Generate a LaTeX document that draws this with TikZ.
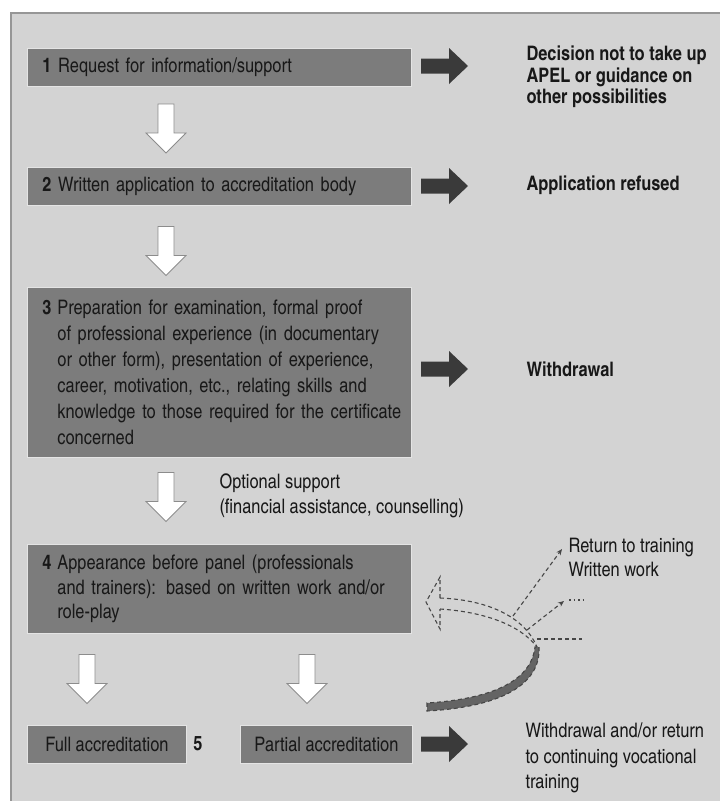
\documentclass[tikz,border=0pt]{standalone}
\usepackage{fontspec}
\setmainfont{TeX Gyre Heros Cn}
\usetikzlibrary{arrows.meta}
\definecolor{panelbg}{RGB}{211,211,211}
\definecolor{panelline}{RGB}{150,150,150}
\definecolor{boxfill}{RGB}{124,124,124}
\definecolor{boxedge}{RGB}{228,228,228}
\definecolor{darkarr}{RGB}{58,58,58}
\definecolor{txt}{RGB}{24,24,24}
\definecolor{dashcol}{RGB}{70,70,70}
\definecolor{bandfill}{RGB}{100,100,100}
\definecolor{arredge}{RGB}{140,140,140}
\newcommand\contline[1]{\hspace*{15pt}\mbox{#1}}
\tikzset{
  rarr/.pic={
    \path[fill=darkarr] (-23.5,-7.5) -- (4.5,-7.5) -- (4.5,-18) -- (23.5,0)
      -- (4.5,18) -- (4.5,7.5) -- (-23.5,7.5) -- cycle;
    \coordinate (-c) at (0,0);
  },
  darr/.pic={
    \path[fill=white, draw=arredge, line width=0.8pt, line join=miter]
      (-8,-24.5) -- (8,-24.5) -- (8,4.5) -- (20,4.5) -- (0,24.5)
      -- (-20,4.5) -- (-8,4.5) -- cycle;
    \coordinate (-c) at (0,0);
  },
}
\begin{document}
\begin{tikzpicture}[x=1pt,y=-1pt,
  every node/.style={text=txt},
  base/.style={font=\fontsize{20}{#1}\selectfont},
  base/.default=26,
  bbase/.style={font=\fontsize{20}{#1}\selectfont\bfseries},
  bbase/.default=21.5,
  stepbox/.style={draw=boxedge, line width=0.8pt, fill=boxfill, anchor=north west,
    inner xsep=15pt, inner ysep=0pt, text width=354pt, align=left, base},
  smallbox/.style={draw=boxedge, line width=0.8pt, fill=boxfill, anchor=north west,
    inner sep=0pt, minimum height=38pt, align=center, base},
  sidetext/.style={anchor=west, align=left, base=#1},
  boldtext/.style={anchor=west, align=left, bbase=#1},
  dashline/.style={draw=dashcol, line width=1.1pt, dash pattern=on 4pt off 3pt},
]
\useasboundingbox (0,0) rectangle (720,801);
% panel
\fill[panelbg] (11,13) rectangle (720,801);
\draw[panelline, line width=1.5pt] (11,801) -- (11,13) -- (720,13);

% step boxes
\node[stepbox, minimum height=38pt] (s1) at (27,48)
  {\textbf{1} Request for information/support};
\node[stepbox, minimum height=38pt] (s2) at (27,167)
  {\textbf{2} Written application to accreditation body};
\node[stepbox, minimum height=170pt] (s3) at (27,287)
  {\mbox{\makebox[15pt][l]{\textbf{3}}Preparation for examination, formal proof}\\
   \contline{of professional experience (in documentary}\\
   \contline{or other form), presentation of experience,}\\
   \contline{career, motivation, etc., relating skills and}\\
   \contline{knowledge to those required for the certificate}\\
   \contline{concerned}};
\node[stepbox, minimum height=89pt, base=24.5] (s4) at (27,544)
  {\mbox{\makebox[15pt][l]{\textbf{4}}Appearance before panel (professionals}\\
   \contline{and trainers): based on written work and/or}\\
   \contline{role-play}};
\node[smallbox, minimum width=159pt] (full) at (27,725) {Full accreditation};
\node[bbase] (five) at (198,744) {5};
\node[smallbox, minimum width=172pt] (part) at (240,725) {Partial accreditation};

% white down arrows
\pic (d1) at (166,128.5) {darr};
\pic (d2) at (166,251) {darr};
\pic (d3) at (166,497) {darr};
\pic (d4) at (87,679) {darr};
\pic (d5) at (307,679) {darr};

% dark right arrows
\pic (r1) at (444.5,66) {rarr};
\pic (r2) at (444.5,186) {rarr};
\pic (r3) at (444.5,369) {rarr};
\pic (r5) at (444.5,744) {rarr};

% outcome texts
\node[boldtext] (o1) at (523,77)
  {Decision not to take up\\APEL or guidance on\\other possibilities};
\node[boldtext] (o2) at (523,185) {Application refused};
\node[boldtext] (o3) at (523,369) {Withdrawal};
\node[sidetext=25.5] (o5) at (522,758)
  {Withdrawal and/or return\\to continuing vocational\\training};
\node[sidetext=25] (opt) at (216,496)
  {Optional support\\(financial assistance, counselling)};
\node[sidetext=24] (ret) at (565,557) {Return to training\\Written work};

% dashed return arrow
\coordinate (tip) at (426,602);
\coordinate (hu) at (440,577);
\coordinate (hl) at (440,629);
\coordinate (su) at (440,598);
\coordinate (sl) at (440,609);
\coordinate (join) at (537,647);
\draw[dashline] (su) -- (hu) -- (tip) -- (hl) -- (sl);
\draw[dashline] (su) .. controls (490,600) and (525,618) .. (join);
\draw[dashline] (sl) .. controls (485,612) and (520,625) .. (join);
\filldraw[fill=bandfill, dashline]
  (539,647) .. controls (541,685) and (500,707) .. (427,711)
  -- (427,703) .. controls (490,699) and (531,682) .. (535,647) -- cycle;
% branches
\coordinate (b1s) at (513,616);
\coordinate (b1e) at (562,549);
\coordinate (b2s) at (527,630);
\coordinate (b2e) at (564,601);
\coordinate (b3s) at (537,639);
\coordinate (b3e) at (582,639);
\coordinate (dots1) at (569,600);
\coordinate (dots2) at (586,600);
\draw[dashline, -{Stealth[length=6pt,width=5pt]}] (b1s) -- (b1e);
\draw[dashline, -{Stealth[length=6pt,width=5pt]}] (b2s) -- (b2e);
\draw[draw=dashcol, line width=1.2pt, dash pattern=on 1.5pt off 3pt] (dots1) -- (dots2);
\draw[dashline] (b3s) -- (b3e);
\end{tikzpicture}
\end{document}
